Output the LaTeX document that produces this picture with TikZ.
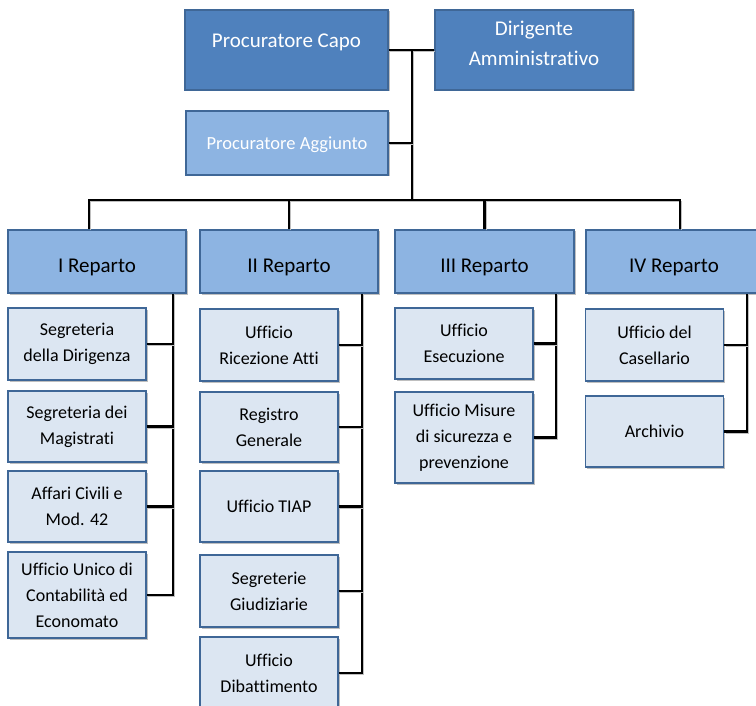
\documentclass[tikz,border=0pt]{standalone}
\usepackage{fontspec}
\setmainfont{Carlito}[Ligatures=NoCommon]
\usetikzlibrary{positioning, shadows}

\definecolor{capoblue}{HTML}{4F81BD}
\definecolor{repblue}{HTML}{8DB4E2}
\definecolor{ufficioblue}{HTML}{DCE6F2}
\definecolor{edgeblue}{HTML}{3F6797}

\begin{document}
\begin{tikzpicture}[x=1pt, y=-1pt,
    boxshade/.style={draw=edgeblue, line width=1.6pt, align=center, inner sep=2pt,
      drop shadow={shadow xshift=1.5pt, shadow yshift=-1.5pt, opacity=.25, fill=black}},
    capobox/.style={boxshade, fill=capoblue, text=white, minimum height=80pt,
      font=\fontsize{21}{30}\selectfont},
    aggbox/.style={boxshade, fill=repblue, text=white, minimum height=64pt,
      text height=17pt, font=\fontsize{18.5}{26}\selectfont},
    repbox/.style={boxshade, fill=repblue, minimum height=63pt, text height=25pt,
      font=\fontsize{21}{26}\selectfont},
    ufficio/.style={boxshade, fill=ufficioblue, minimum width=138pt,
      font=\fontsize{18}{26}\selectfont},
    conn/.style={draw=black, line width=2.5pt,
      preaction={draw=black!25, transform canvas={shift={(1.2pt,-1.2pt)}}}}]
  \useasboundingbox (0,0) rectangle (756,706);

  % vertici
  \node[capobox, minimum width=203pt, text depth=18pt] (capo) at (286.5,50) {Procuratore Capo};
  \node[capobox, minimum width=198pt, text depth=14pt] (dir) at (534,50) {Dirigente\\Amministrativo};
  \node[aggbox, minimum width=202pt] (agg) at (287,143) {Procuratore Aggiunto};

  % reparti
  \node[repbox, minimum width=178pt] (rep1) at (97,261.5) {I Reparto};
  \node[repbox, minimum width=178pt] (rep2) at (289,261.5) {II Reparto};
  \node[repbox, minimum width=179pt] (rep3) at (484.5,261.5) {III Reparto};
  \node[repbox, minimum width=176pt] (rep4) at (674,261.5) {IV Reparto};

  % uffici
  \node[ufficio, minimum height=72pt] (u11) at (77,344) {Segreteria\\della Dirigenza};
  \node[ufficio, minimum height=71pt] (u12) at (77,426.5) {Segreteria dei\\Magistrati};
  \node[ufficio, minimum height=71pt] (u13) at (77,506.5) {Affari Civili e\\Mod. 42};
  \node[ufficio, minimum height=86pt] (u14) at (77,595) {Ufficio Unico di\\Contabilità ed\\Economato};

  \node[ufficio, minimum height=72pt] (u21) at (269,345) {Ufficio\\Ricezione Atti};
  \node[ufficio, minimum height=70pt] (u22) at (269,427) {Registro\\Generale};
  \node[ufficio, minimum height=71pt] (u23) at (269,506.5) {Ufficio TIAP};
  \node[ufficio, minimum height=72pt] (u24) at (269,591) {Segreterie\\Giudiziarie};
  \node[ufficio, minimum height=72pt] (u25) at (269,673) {Ufficio\\Dibattimento};

  \node[ufficio, minimum height=71pt] (u31) at (464,343.5) {Ufficio\\Esecuzione};
  \node[ufficio, minimum height=91pt] (u32) at (464,437.5) {Ufficio Misure\\di sicurezza e\\prevenzione};

  \node[ufficio, minimum height=72pt] (u41) at (654.5,345) {Ufficio del\\Casellario};
  \node[ufficio, minimum height=71pt] (u42) at (654.5,431.5) {Archivio};

  % collegamenti
  \coordinate (spine) at (412,50);
  \coordinate (bus) at (412,200);
  \draw[conn] (capo) -- (dir);
  \draw[conn] (spine) -- (bus);
  \draw[conn] (agg.east) -- (agg.east -| spine);
  \draw[conn] ([xshift=-8pt]rep1.north) |- ([xshift=6pt]rep4.north |- bus)
    -- ([xshift=6pt]rep4.north);
  \foreach \r in {rep2, rep3} {
    \draw[conn] (\r.north) -- (\r.north |- bus);
  }

  \coordinate (s1) at (173,0);
  \coordinate (s2) at (362,0);
  \coordinate (s3) at (556,0);
  \coordinate (s4) at (747,0);
  \draw[conn] (s1 |- rep1.south) |- (u14.east);
  \draw[conn] (s2 |- rep2.south) |- (u25.east);
  \draw[conn] (s3 |- rep3.south) |- (u32.east);
  \draw[conn] (s4 |- rep4.south) |- (u42.east);
  \foreach \u in {u11, u12, u13} {
    \draw[conn] (\u.east) -- (\u.east -| s1);
  }
  \foreach \u in {u21, u22, u23, u24} {
    \draw[conn] (\u.east) -- (\u.east -| s2);
  }
  \draw[conn] (u31.east) -- (u31.east -| s3);
  \draw[conn] (u41.east) -- (u41.east -| s4);
\end{tikzpicture}
\end{document}
